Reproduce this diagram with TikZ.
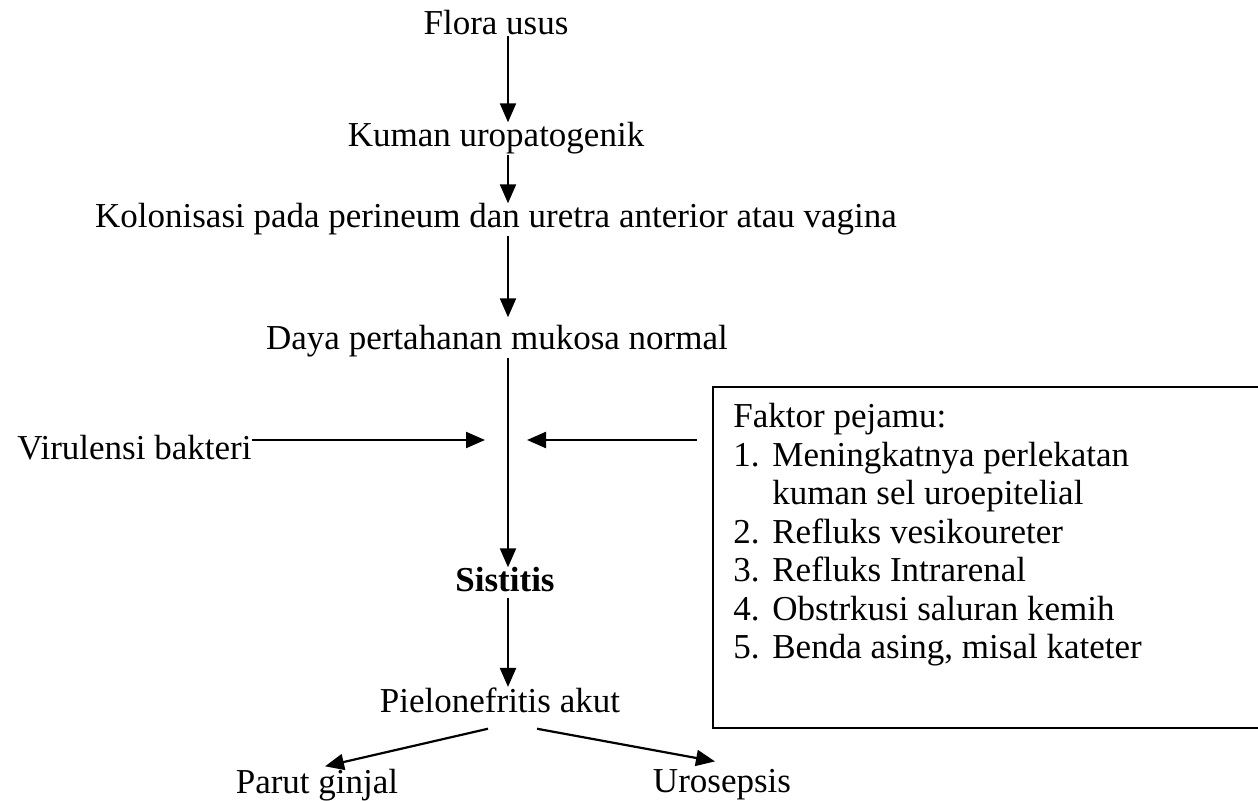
\documentclass[tikz,border=0pt]{standalone}
\usepackage{fontspec}
\setmainfont{Liberation Serif}
\usetikzlibrary{arrows.meta}
\tikzset{
  lbl/.style={anchor=base,inner sep=0pt,font=\fontsize{17.5}{19.25}\selectfont},
  arr/.style={-{Triangle[length=9.5pt,width=8pt]},line width=1.1pt},
}
\begin{document}
\begin{tikzpicture}[x=0.5pt,y=-0.5pt]
\useasboundingbox (0,0) rectangle (1258,801);
\coordinate (spine) at (508,0);
\coordinate (meet) at (508,440);

\node[lbl] (flora) at (496,35) {Flora usus};
\node[lbl] (kuman) at (496,147) {Kuman uropatogenik};
\node[lbl] (kolon) at (496,228) {Kolonisasi pada perineum dan uretra anterior atau vagina};
\node[lbl] (daya) at (497,350) {Daya pertahanan mukosa normal};
\node[lbl,anchor=base west] (viru) at (17,460) {Virulensi bakteri};
\node[lbl,font=\fontsize{17.5}{19.25}\selectfont\bfseries] (sistitis) at (505,592) {Sistitis};
\node[lbl] (pielo) at (500,712) {Pielonefritis akut};
\node[lbl] (parut) at (317,793) {Parut ginjal};
\node[lbl] (uro) at (722,792) {Urosepsis};
\node[lbl,anchor=base west] (faktor) at (733,428) {\begin{tabular}[t]{@{}l@{}}
Faktor pejamu:\\
\makebox[19.5pt][l]{1.}Meningkatnya perlekatan\\
\hspace{19.5pt}kuman sel uroepitelial\\
\makebox[19.5pt][l]{2.}Refluks vesikoureter\\
\makebox[19.5pt][l]{3.}Refluks Intrarenal\\
\makebox[19.5pt][l]{4.}Obstrkusi saluran kemih\\
\makebox[19.5pt][l]{5.}Benda asing, misal kateter
\end{tabular}};

\draw[line width=1.1pt] (1258,387) -- (713,387) -- (713,728) -- (1258,728);

\draw[arr] (flora.south -| spine) -- (kuman.north -| spine);
\draw[arr] (kuman.south -| spine) -- (kolon.north -| spine);
\draw[arr] (kolon.south -| spine) -- ([yshift=4pt]daya.north -| spine);
\draw[arr] (daya.south -| spine) -- (sistitis.north -| spine);
\draw[arr,shorten <=2.5pt] (sistitis.south -| spine) -- (pielo.north -| spine);
\draw[arr] (viru.east |- meet) -- ([xshift=-11.5pt]meet);
\draw[arr] ([xshift=-18pt]faktor.west |- meet) -- ([xshift=9.5pt]meet);
\draw[arr] ([shift={(-12,16)}]pielo.south) -- ([shift={(8,-2)}]parut.north);
\draw[arr] ([shift={(37,16)}]pielo.south) -- ([shift={(-7,-7)}]uro.north);

\end{tikzpicture}
\end{document}
